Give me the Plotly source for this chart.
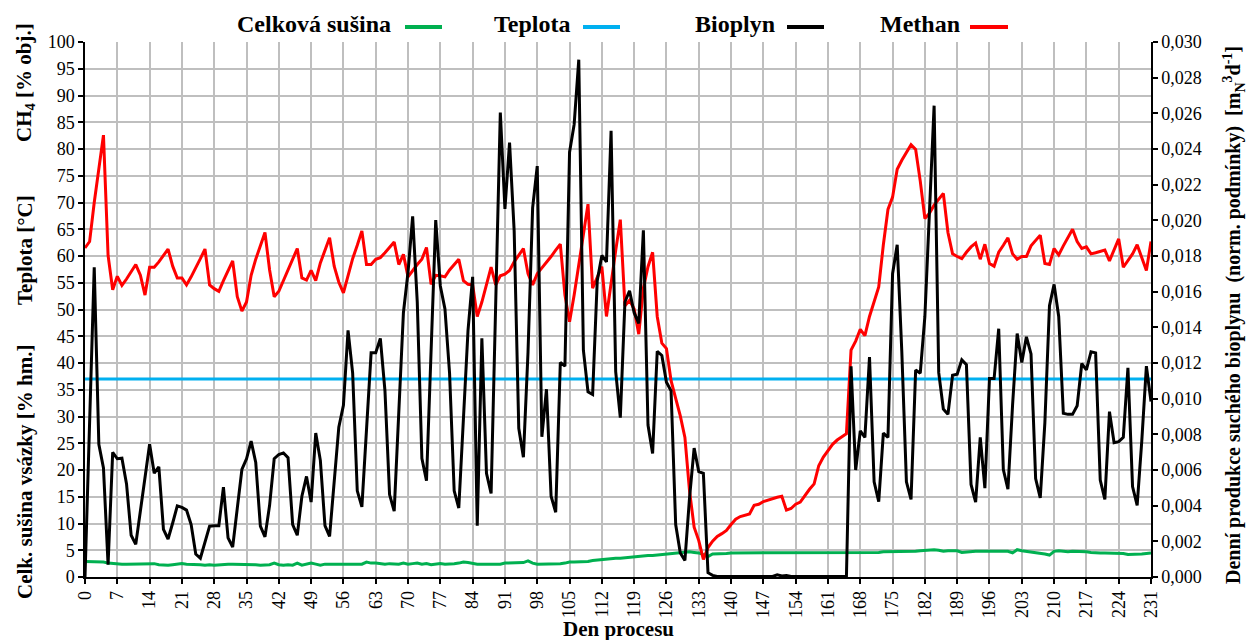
import plotly.graph_objects as go

# Den procesu (days)
dny = list(range(0, 232))

# Celková sušina vsázky [% hm.]
susina = [
    2.9, 2.9, 2.9, 2.9, 2.8, 2.6, 2.5,
    2.5, 2.4, 2.4, 2.4, 2.4, 2.4, 2.4,
    2.4, 2.5, 2.3, 2.2, 2.2, 2.3, 2.4,
    2.5, 2.4, 2.4, 2.4, 2.3, 2.2, 2.3,
    2.2, 2.3, 2.4, 2.4, 2.4, 2.4, 2.3,
    2.4, 2.4, 2.3, 2.2, 2.2, 2.3, 2.6,
    2.3, 2.2, 2.3, 2.2, 2.6, 2.2, 2.4,
    2.6, 2.4, 2.2, 2.4, 2.4, 2.4, 2.4,
    2.4, 2.4, 2.4, 2.3, 2.4, 2.8, 2.6,
    2.6, 2.5, 2.4, 2.5, 2.4, 2.4, 2.6,
    2.4, 2.5, 2.6, 2.4, 2.5, 2.3, 2.4,
    2.5, 2.4, 2.4, 2.5, 2.6, 2.8, 2.7,
    2.5, 2.4, 2.4, 2.4, 2.4, 2.4, 2.4,
    2.6, 2.6, 2.6, 2.6, 2.7, 3.0, 2.6,
    2.4, 2.4, 2.4, 2.4, 2.4, 2.5, 2.6,
    2.8, 2.8, 2.8, 2.8, 2.9, 3.1, 3.2,
    3.3, 3.4, 3.5, 3.5, 3.5, 3.6, 3.7,
    3.8, 3.9, 4.0, 4.0, 4.0, 4.1, 4.2,
    4.3, 4.4, 4.5, 4.5, 4.6, 4.7, 4.6,
    4.5, 4.2, 3.8, 4.3, 4.3, 4.4, 4.4,
    4.5, 4.5, 4.5, 4.5, 4.5, 4.5, 4.5,
    4.5, 4.5, 4.5, 4.5, 4.5, 4.5, 4.5,
    4.5, 4.5, 4.5, 4.6, 4.6, 4.6, 4.6,
    4.6, 4.6, 4.6, 4.6, 4.6, 4.6, 4.6,
    4.6, 4.6, 4.6, 4.6, 4.6, 4.7, 4.7,
    4.7, 4.7, 4.7, 4.7, 4.8, 4.8, 4.9,
    5.0, 5.1, 5.1, 5.0, 4.8, 4.9, 4.9,
    4.9, 4.6, 4.7, 4.7, 4.8, 4.8, 4.8,
    4.9, 4.8, 4.8, 4.8, 4.8, 4.5, 5.1,
    4.9, 4.8, 4.7, 4.6, 4.4, 4.3, 4.1,
    4.8, 4.9, 4.8, 4.7, 4.8, 4.8, 4.7,
    4.7, 4.6, 4.5, 4.5, 4.5, 4.5, 4.5,
    4.5, 4.4, 4.2, 4.2, 4.3, 4.3, 4.4,
    4.5,
]

# Teplota [°C]
teplota_dny = [0, 231]
teplota = [37.0, 37.0]

# Methan [% obj.]
methan = [
    61.5, 62.7, 70.0, 76.4, 82.6, 60.1, 53.7,
    56.2, 54.5, 55.7, 57.1, 58.4, 56.4, 52.7,
    57.9, 57.9, 58.9, 60.1, 61.3, 58.1, 55.9,
    55.9, 54.6, 56.1, 57.7, 59.5, 61.3, 54.6,
    53.9, 53.4, 55.4, 57.4, 59.1, 52.4, 49.7,
    51.4, 56.4, 59.4, 62.0, 64.4, 57.4, 52.4,
    53.4, 55.4, 57.7, 59.5, 61.4, 55.9, 55.5,
    57.3, 55.4, 58.7, 61.0, 63.4, 58.1, 55.1,
    53.1, 56.5, 59.5, 62.0, 64.7, 58.4, 58.4,
    59.4, 59.7, 60.6, 61.5, 62.6, 58.4, 60.3,
    56.1, 57.3, 58.4, 59.4, 61.6, 54.7, 56.4,
    56.3, 56.1, 57.4, 58.4, 59.4, 55.4, 54.7,
    54.6, 48.7, 51.4, 54.6, 57.9, 54.6, 56.3,
    56.6, 57.3, 58.9, 60.2, 61.4, 56.7, 54.6,
    56.7, 57.7, 58.9, 59.9, 61.1, 62.2, 52.7,
    47.7, 52.7, 58.7, 64.0, 69.7, 54.0, 56.0,
    58.0, 48.7, 55.4, 61.0, 66.8, 50.7, 51.7,
    50.1, 45.4, 54.0, 58.0, 60.7, 48.7, 43.7,
    42.7, 36.7, 33.4, 30.1, 26.1, 16.1, 9.3,
    6.8, 3.3, 5.5, 6.7, 7.6, 8.1, 8.7,
    9.8, 10.8, 11.3, 11.6, 11.8, 13.4, 13.6,
    14.1, 14.4, 14.6, 14.9, 15.1, 12.5, 12.8,
    13.6, 14.0, 15.3, 16.4, 17.4, 20.8, 22.4,
    23.6, 24.8, 25.6, 26.2, 26.8, 42.4, 44.1,
    46.3, 45.1, 48.7, 51.4, 54.2, 62.1, 68.7,
    71.0, 76.2, 77.9, 79.4, 80.8, 79.9, 74.0,
    67.0, 68.0, 69.5, 70.7, 71.7, 64.4, 60.4,
    59.9, 59.5, 60.7, 61.7, 62.4, 59.4, 62.2,
    58.6, 58.1, 60.7, 62.0, 63.4, 60.4, 59.4,
    59.9, 59.9, 61.9, 63.0, 63.9, 58.6, 58.4,
    61.4, 60.2, 61.9, 63.4, 65.0, 62.7, 61.4,
    61.7, 60.4, 60.6, 60.9, 61.1, 59.1, 61.1,
    63.2, 57.9, 59.1, 60.4, 62.1, 59.7, 57.3,
    62.7,
]

# Bioplyn - denní produkce suchého bioplynu [m3N/d]
bioplyn = [
    0.0, 0.0087, 0.01737, 0.00744, 0.00612, 0.00069, 0.00699,
    0.00663, 0.00666, 0.00522, 0.00234, 0.00183, 0.00375, 0.00555,
    0.00744, 0.00582, 0.00618, 0.00267, 0.00213, 0.00303, 0.00399,
    0.0039, 0.00375, 0.00294, 0.00129, 0.00105, 0.00195, 0.00285,
    0.00288, 0.00288, 0.00504, 0.00219, 0.00168, 0.00384, 0.00603,
    0.00663, 0.00762, 0.00642, 0.00285, 0.00225, 0.00402, 0.00663,
    0.00687, 0.00696, 0.00669, 0.00294, 0.00234, 0.00453, 0.00564,
    0.0042, 0.00807, 0.00654, 0.00288, 0.00228, 0.00525, 0.0084,
    0.00963, 0.01383, 0.01143, 0.00483, 0.00393, 0.00825, 0.01257,
    0.01257, 0.01338, 0.01044, 0.00462, 0.00369, 0.0093, 0.01482,
    0.0171, 0.02022, 0.01542, 0.00666, 0.0054, 0.0126, 0.02001,
    0.01632, 0.01503, 0.01143, 0.00483, 0.00387, 0.009, 0.01383,
    0.01683, 0.00288, 0.01338, 0.00582, 0.00468, 0.01542, 0.02604,
    0.02064, 0.02436, 0.01941, 0.00834, 0.00672, 0.0126, 0.0207,
    0.02304, 0.00786, 0.01053, 0.00453, 0.00363, 0.01203, 0.01182,
    0.02382, 0.02538, 0.02901, 0.01272, 0.01038, 0.01023, 0.01662,
    0.01803, 0.01767, 0.02502, 0.01152, 0.00894, 0.01542, 0.01605,
    0.01482, 0.01422, 0.01944, 0.00852, 0.00693, 0.01266, 0.01242,
    0.01092, 0.01044, 0.00294, 0.00135, 0.00093, 0.00444, 0.00723,
    0.00591, 0.00582, 0.00024, 0.00009, 0.00003, 0.00003, 0.00003,
    0.00003, 0.00003, 0.00003, 0.00003, 0.00003, 0.00003, 0.00003,
    0.00003, 0.00003, 0.00003, 0.00012, 0.00006, 0.00009, 0.00003,
    0.00003, 0.00003, 0.00003, 0.00003, 0.00003, 0.00003, 0.00006,
    0.00006, 0.00006, 0.00006, 0.00006, 0.00003, 0.01182, 0.006,
    0.00819, 0.00783, 0.01233, 0.00534, 0.00423, 0.00807, 0.00783,
    0.01701, 0.01863, 0.01263, 0.00534, 0.00435, 0.01161, 0.01143,
    0.01461, 0.02061, 0.02643, 0.01146, 0.00942, 0.00912, 0.01131,
    0.01137, 0.01218, 0.01191, 0.00519, 0.0042, 0.00783, 0.00498,
    0.01113, 0.01113, 0.01392, 0.00603, 0.00492, 0.00963, 0.01365,
    0.01203, 0.01347, 0.01251, 0.00552, 0.00444, 0.00864, 0.01521,
    0.01641, 0.01461, 0.00918, 0.00912, 0.00912, 0.0096, 0.01197,
    0.01161, 0.01263, 0.01257, 0.00543, 0.00435, 0.00927, 0.00753,
    0.00759, 0.00783, 0.01173, 0.00507, 0.00402, 0.00762, 0.01182,
    0.00984,
]

legend_names = ["Celková sušina", "Teplota", "Bioplyn", "Methan"]
colors = ["#00b050", "#00b0f0", "#000000", "#ff0000"]

FONT = "Liberation Serif"

fig = go.Figure()
fig.add_trace(go.Scatter(x=dny, y=susina, mode="lines", name=legend_names[0],
                         line=dict(color=colors[0], width=3)))
fig.add_trace(go.Scatter(x=teplota_dny, y=teplota, mode="lines", name=legend_names[1],
                         line=dict(color=colors[1], width=3)))
fig.add_trace(go.Scatter(x=dny, y=methan, mode="lines", name=legend_names[3],
                         line=dict(color=colors[3], width=3)))
fig.add_trace(go.Scatter(x=dny, y=bioplyn, mode="lines", name=legend_names[2],
                         line=dict(color=colors[2], width=3), yaxis="y2"))

L, R, T, B = 85, 98, 42, 63
W, H = 1249, 640
pw, ph = W - L - R, H - T - B

def px_x(p):
    return (p - L) / pw

def px_y(p):
    return (H - B - p) / ph

axis_common = dict(
    showgrid=True, gridcolor="#bfbfbf", gridwidth=1.5,
    showline=True, linecolor="#000000", linewidth=1.5,
    ticks="outside", ticklen=5, tickcolor="#000000", tickwidth=1.5,
    tickfont=dict(family=FONT, size=18, color="#000000"),
    zeroline=False,
)

fig.update_layout(
    width=W, height=H,
    margin=dict(l=L, r=R, t=T, b=B, autoexpand=False),
    paper_bgcolor="white", plot_bgcolor="white",
    separators=", ",
    showlegend=False,
    xaxis=dict(range=[0, 231], tick0=0, dtick=7, tickangle=-90, **axis_common),
    yaxis=dict(range=[0, 100], tick0=0, dtick=5, **axis_common),
    yaxis2=dict(range=[0, 0.030], tick0=0, dtick=0.002, tickformat=".3f",
                overlaying="y", side="right", showgrid=False,
                showline=True, linecolor="#000000", linewidth=1.5,
                ticks="outside", ticklen=5, tickcolor="#000000", tickwidth=1.5,
                tickfont=dict(family=FONT, size=18, color="#000000"),
                zeroline=False),
)

ann = []
title_font = dict(family=FONT, size=21, color="#000000")
# x-axis title
ann.append(dict(text="<b>Den procesu</b>", xref="paper", yref="paper",
                x=0.5, y=px_y(629), xanchor="center", yanchor="middle",
                showarrow=False, font=title_font))
# left axis titles
for txt, yc in [("<b>Celk. sušina vsázky [% hm.]</b>", 472),
                ("<b>Teplota [°C]</b>", 250),
                ("<b>CH<sub>4</sub> [% obj.]</b>", 83)]:
    ann.append(dict(text=txt, xref="paper", yref="paper", x=px_x(25), y=px_y(yc),
                    xanchor="center", yanchor="middle", textangle=-90,
                    showarrow=False, font=title_font))
# right axis title
ann.append(dict(text="<b>Denní produkce suchého bioplynu  (norm. podmínky)  [m<sub>N</sub><sup>3</sup>d<sup>-1</sup>]</b>",
                xref="paper", yref="paper", x=px_x(1234), y=px_y(315),
                xanchor="center", yanchor="middle", textangle=-90,
                showarrow=False, font=dict(family=FONT, size=20, color="#000000")))

# legend (text followed by a short line sample)
leg_text_right = [393, 572, 777, 962]
leg_line = [(405, 442), (583, 620), (787, 824), (970, 1008)]
shapes = []
for name, col, xr, (x0, x1) in zip(legend_names, colors, leg_text_right, leg_line):
    ann.append(dict(text="<b>" + name + "</b>", xref="paper", yref="paper",
                    x=px_x(xr), y=px_y(24), xanchor="right", yanchor="middle",
                    showarrow=False, font=dict(family=FONT, size=24, color="#000000")))
    shapes.append(dict(type="line", xref="paper", yref="paper",
                       x0=px_x(x0), x1=px_x(x1), y0=px_y(27), y1=px_y(27),
                       line=dict(color=col, width=4)))

fig.update_layout(annotations=ann, shapes=shapes)

fig.write_html("out.html", config={"displayModeBar": False},
               post_script="document.body.style.margin='0';document.body.style.overflow='hidden';")
